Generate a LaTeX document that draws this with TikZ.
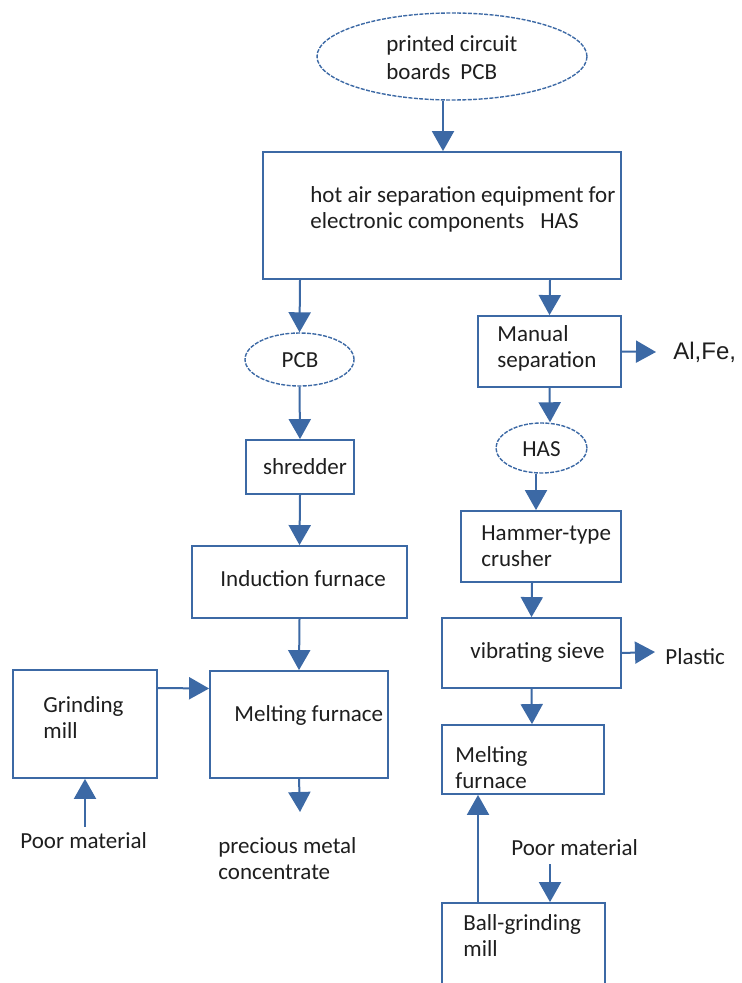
\documentclass[tikz,border=0pt]{standalone}
\usepackage{fontspec}
\setmainfont{Carlito}
\newfontfamily\arialfont{Liberation Sans}
\usepackage{xcolor}
\usetikzlibrary{shapes.geometric,arrows.meta,positioning}
\definecolor{flowblue}{RGB}{60,105,165}
\definecolor{txtgray}{RGB}{30,30,30}

\begin{document}
\begin{tikzpicture}[x=0.5pt,y=-0.5pt,
    box/.style={draw=flowblue, line width=0.9pt, inner sep=0pt},
    oval/.style={ellipse, draw=flowblue, line width=0.7pt, dash pattern=on 2pt off 0.7pt, inner sep=0pt},
    txt/.style={font=\fontsize{11.5}{13}\selectfont, text=txtgray, inner sep=0pt, align=left},
    flow/.style={draw=flowblue, line width=1pt, -{Triangle[length=10pt,width=11pt]}}]
    \useasboundingbox (0,0) rectangle (741,983);
    \clip (0,0) rectangle (741,983);

    % input and hot air separation
    \node[oval, minimum width=135pt, minimum height=43.5pt] (prt) at (452,56.5) {};
    \node[txt, anchor=west, font=\fontsize{11.5}{14}\selectfont] (prtT) at (386,58) {printed circuit\\boards\hspace{5pt}PCB};
    \node[box, minimum width=179pt, minimum height=63.5pt] (has) at (442,215.5) {};
    \node[txt, anchor=west] (hasT) at (310,209) {hot air separation equipment for\\electronic components\hspace{8pt}HAS};
    \draw[flow] ([xshift=-4.5pt]prt.south) -- ([xshift=0.5pt]has.north);

    % left branch
    \node[oval, minimum width=54.5pt, minimum height=26.5pt] (pcb) at (299.5,359.5) {};
    \node[txt] (pcbT) at (300,360) {PCB};
    \node[box, minimum width=54pt, minimum height=27pt] (shred) at (300,467) {};
    \node[txt] (shredT) at (305,467) {shredder};
    \node[box, minimum width=107.5pt, minimum height=36pt] (induct) at (299.5,582) {};
    \node[txt, anchor=west] (inductT) at (220,579) {Induction furnace};
    \node[box, minimum width=89pt, minimum height=53.5pt] (meltA) at (299,724.5) {};
    \node[txt, anchor=west] (meltAT) at (234,715) {Melting furnace};
    \node[box, minimum width=72pt, minimum height=54pt] (grind) at (85,724) {};
    \node[txt, anchor=west] (grindT) at (43,718) {Grinding\\mill};
    \node[txt, anchor=west, outer ysep=3pt] (poorA) at (20,841) {Poor material};
    \node[txt, anchor=west] (conc) at (218,859) {precious metal\\concentrate};
    \coordinate (concIn) at (300,812);

    \draw[flow] ([xshift=-71pt]has.south) -- (pcb.north);
    \draw[flow] (pcb.south) -- (shred.north);
    \draw[flow] (shred.south) -- (induct.north);
    \draw[flow] (induct.south) -- (meltA.north);
    \draw[flow] ([yshift=18pt]grind.east) -- ([yshift=18pt]meltA.west);
    \draw[flow] (grind.south |- poorA.north) -- (grind.south);
    \draw[flow] (meltA.south) -- (concIn);

    % right branch
    \node[box, minimum width=71.5pt, minimum height=35.5pt] (manual) at (549.5,351.5) {};
    \node[txt, anchor=west] (manualT) at (497,348) {Manual\\separation};
    \node[anchor=west, inner sep=0pt, text=txtgray, font=\arialfont\fontsize{12}{14}\selectfont] (alfe) at (673,352) {Al,Fe,};
    \node[oval, minimum width=45.5pt, minimum height=25pt] (hasO) at (541.5,448) {};
    \node[txt] (hasOT) at (541.5,449) {HAS};
    \node[box, minimum width=80pt, minimum height=35.5pt] (hammer) at (541,546.5) {};
    \node[txt, anchor=west] (hammerT) at (481,546) {Hammer-type\\crusher};
    \node[box, minimum width=89.5pt, minimum height=35pt] (sieve) at (531.5,653) {};
    \node[txt, anchor=west] (sieveT) at (470,652) {vibrating sieve};
    \node[txt, anchor=west] (plastic) at (665,657) {Plastic};
    \node[box, minimum width=81pt, minimum height=34.5pt] (meltB) at (523,759.5) {};
    \node[txt, anchor=west] (meltBT) at (455,768) {Melting\\furnace};
    \node[txt, anchor=west, outer ysep=4pt] (poorB) at (511,848) {Poor material};
    \node[box, minimum width=81.5pt, minimum height=60pt] (ball) at (523.5,963) {};
    \node[txt, anchor=west] (ballT) at (463,936) {Ball-grinding\\mill};
    \coordinate (ballIn) at ([xshift=13.25pt]ball.north);

    \draw[flow] ([xshift=54pt]has.south) -- (manual.north);
    \draw[flow] (manual.east) -- ([xshift=-8.5pt]alfe.west);
    \draw[flow] (manual.south) -- ([xshift=4.25pt]hasO.north);
    \draw[flow] ([xshift=-2.75pt]hasO.south) -- ([xshift=-2.5pt]hammer.north);
    \draw[flow] ([xshift=-4.5pt]hammer.south) -- (sieve.north);
    \draw[flow] (sieve.east) -- ([xshift=-5pt,yshift=2.5pt]plastic.west);
    \draw[flow] (sieve.south) -- ([xshift=4.5pt]meltB.north);
    \draw[flow] ([xshift=-22.75pt]ball.north) -- ([xshift=-22.5pt]meltB.south);
    \draw[flow] (ballIn |- poorB.south) -- (ballIn);
\end{tikzpicture}
\end{document}
